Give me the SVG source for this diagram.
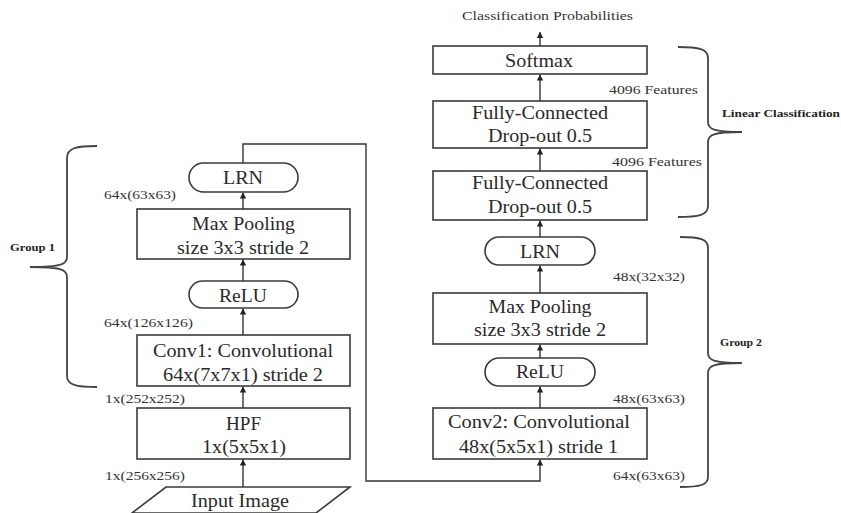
<svg xmlns="http://www.w3.org/2000/svg" width="841" height="513" viewBox="0 0 841 513">
<style>
  .box{fill:#fff;stroke:#3a3a3a;stroke-width:1.6}
  .t{font-family:"Liberation Serif","Times New Roman",serif;font-size:18px;fill:#2a2a2a;text-anchor:middle}
  .s{font-family:"Liberation Serif","Times New Roman",serif;font-size:12.5px;fill:#333}
  .b{font-family:"Liberation Serif","Times New Roman",serif;font-size:11px;font-weight:bold;fill:#222}
  .c{fill:none;stroke:#333;stroke-width:1.4}
  .br{fill:none;stroke:#444;stroke-width:1.8}
</style>
<defs>
  <marker id="ah" viewBox="0 0 6 8" refX="6" refY="4" markerWidth="6" markerHeight="8" markerUnits="userSpaceOnUse" orient="auto">
    <path d="M0,0.8 L6,4 L0,7.2 Z" fill="#222"/>
  </marker>
</defs>
<rect width="841" height="513" fill="#fff"/>

<g id="connectors">
  <line class="c" x1="243" y1="487" x2="243" y2="459.5" marker-end="url(#ah)"/>
  <line class="c" x1="243" y1="408" x2="243" y2="386.5" marker-end="url(#ah)"/>
  <line class="c" x1="243" y1="335" x2="243" y2="308.5" marker-end="url(#ah)"/>
  <line class="c" x1="243" y1="281" x2="243" y2="259.5" marker-end="url(#ah)"/>
  <line class="c" x1="243" y1="209" x2="243" y2="192.5" marker-end="url(#ah)"/>
  <polyline class="c" points="243,163 243,144 366,144 366,481 540,481 540,459.5" marker-end="url(#ah)"/>
  <line class="c" x1="540" y1="408" x2="540" y2="386.5" marker-end="url(#ah)"/>
  <line class="c" x1="540" y1="358" x2="540" y2="344.5" marker-end="url(#ah)"/>
  <line class="c" x1="540" y1="293" x2="540" y2="265.5" marker-end="url(#ah)"/>
  <line class="c" x1="540" y1="237" x2="540" y2="220.5" marker-end="url(#ah)"/>
  <line class="c" x1="540" y1="171" x2="540" y2="148.5" marker-end="url(#ah)"/>
  <line class="c" x1="540" y1="101" x2="540" y2="74.5" marker-end="url(#ah)"/>
  <line class="c" x1="540" y1="46" x2="540" y2="32" marker-end="url(#ah)"/>
</g>

<g id="input">
  <polygon class="box" points="166,487 350,487 316,513 132,513"/>
  <text class="t" x="240" y="507" textLength="98" lengthAdjust="spacingAndGlyphs">Input Image</text>
</g>
<g id="hpf">
  <rect class="box" x="137" y="408" width="213" height="51"/>
  <text class="t" x="243.5" y="430" textLength="35" lengthAdjust="spacingAndGlyphs">HPF</text>
  <text class="t" x="244" y="453" textLength="84" lengthAdjust="spacingAndGlyphs">1x(5x5x1)</text>
</g>
<g id="conv1">
  <rect class="box" x="137" y="335" width="213" height="51"/>
  <text class="t" x="243" y="357" textLength="180" lengthAdjust="spacingAndGlyphs">Conv1: Convolutional</text>
  <text class="t" x="243" y="381" textLength="160" lengthAdjust="spacingAndGlyphs">64x(7x7x1) stride 2</text>
</g>
<g id="relu1">
  <rect class="box" x="189" y="281" width="109" height="27" rx="13.5"/>
  <text class="t" x="243" y="302" textLength="48" lengthAdjust="spacingAndGlyphs">ReLU</text>
</g>
<g id="maxpool1">
  <rect class="box" x="137" y="209" width="213" height="50"/>
  <text class="t" x="243.5" y="230" textLength="103" lengthAdjust="spacingAndGlyphs">Max Pooling</text>
  <text class="t" x="243" y="254" textLength="132" lengthAdjust="spacingAndGlyphs">size 3x3 stride 2</text>
</g>
<g id="lrn1">
  <rect class="box" x="189" y="163" width="109" height="29" rx="14.5"/>
  <text class="t" x="243" y="184" textLength="40" lengthAdjust="spacingAndGlyphs">LRN</text>
</g>

<g id="conv2">
  <rect class="box" x="433" y="408" width="214" height="51"/>
  <text class="t" x="539" y="428" textLength="182" lengthAdjust="spacingAndGlyphs">Conv2: Convolutional</text>
  <text class="t" x="538.5" y="453" textLength="159" lengthAdjust="spacingAndGlyphs">48x(5x5x1) stride 1</text>
</g>
<g id="relu2">
  <rect class="box" x="485" y="358" width="110" height="28" rx="14"/>
  <text class="t" x="540" y="378" textLength="48" lengthAdjust="spacingAndGlyphs">ReLU</text>
</g>
<g id="maxpool2">
  <rect class="box" x="433" y="293" width="214" height="51"/>
  <text class="t" x="540" y="313" textLength="103" lengthAdjust="spacingAndGlyphs">Max Pooling</text>
  <text class="t" x="540" y="336" textLength="132" lengthAdjust="spacingAndGlyphs">size 3x3 stride 2</text>
</g>
<g id="lrn2">
  <rect class="box" x="485" y="237" width="110" height="28" rx="14"/>
  <text class="t" x="540" y="258" textLength="40" lengthAdjust="spacingAndGlyphs">LRN</text>
</g>
<g id="fc2">
  <rect class="box" x="433" y="171" width="214" height="49"/>
  <text class="t" x="540" y="189" textLength="136" lengthAdjust="spacingAndGlyphs">Fully-Connected</text>
  <text class="t" x="540" y="213" textLength="104" lengthAdjust="spacingAndGlyphs">Drop-out 0.5</text>
</g>
<g id="fc1">
  <rect class="box" x="433" y="101" width="214" height="47"/>
  <text class="t" x="540" y="119" textLength="136" lengthAdjust="spacingAndGlyphs">Fully-Connected</text>
  <text class="t" x="540" y="142" textLength="104" lengthAdjust="spacingAndGlyphs">Drop-out 0.5</text>
</g>
<g id="softmax">
  <rect class="box" x="433" y="46" width="214" height="28"/>
  <text class="t" x="539" y="67" textLength="68" lengthAdjust="spacingAndGlyphs">Softmax</text>
</g>

<g id="labels">
  <text class="s" x="462" y="20" textLength="171" lengthAdjust="spacingAndGlyphs">Classification Probabilities</text>
  <text class="s" x="609" y="94" textLength="89" lengthAdjust="spacingAndGlyphs">4096 Features</text>
  <text class="s" x="612" y="166" textLength="90" lengthAdjust="spacingAndGlyphs">4096 Features</text>
  <text class="s" x="613" y="281" textLength="72" lengthAdjust="spacingAndGlyphs">48x(32x32)</text>
  <text class="s" x="613" y="403" textLength="72" lengthAdjust="spacingAndGlyphs">48x(63x63)</text>
  <text class="s" x="613" y="480" textLength="72" lengthAdjust="spacingAndGlyphs">64x(63x63)</text>
  <text class="s" x="104" y="199" textLength="72" lengthAdjust="spacingAndGlyphs">64x(63x63)</text>
  <text class="s" x="104" y="327" textLength="89" lengthAdjust="spacingAndGlyphs">64x(126x126)</text>
  <text class="s" x="105" y="403" textLength="80" lengthAdjust="spacingAndGlyphs">1x(252x252)</text>
  <text class="s" x="105" y="480" textLength="80" lengthAdjust="spacingAndGlyphs">1x(256x256)</text>
</g>

<g id="group1">
  <path class="br" d="M97,146 C76,146 67,148 67,158 L67,257 C67,264 62,267 30,267 C62,267 67,270 67,277 L67,376 C67,385 76,387 97,387"/>
  <text class="b" x="10" y="251" textLength="45" lengthAdjust="spacingAndGlyphs">Group 1</text>
</g>
<g id="linear-classification">
  <path class="br" d="M678,47 C699,47 708,49 708,58 L708,122 C708,129 713,132 742,132 C713,132 708,135 708,142 L708,206 C708,215 699,217 678,217"/>
  <text class="b" x="722" y="117" textLength="118" lengthAdjust="spacingAndGlyphs">Linear Classification</text>
</g>
<g id="group2">
  <path class="br" d="M680,237 C700,237 708,239 708,248 L708,353 C708,360 713,363 742,363 C713,363 708,366 708,373 L708,477 C708,485 700,487 680,487"/>
  <text class="b" x="720" y="346" textLength="42" lengthAdjust="spacingAndGlyphs">Group 2</text>
</g>
</svg>
